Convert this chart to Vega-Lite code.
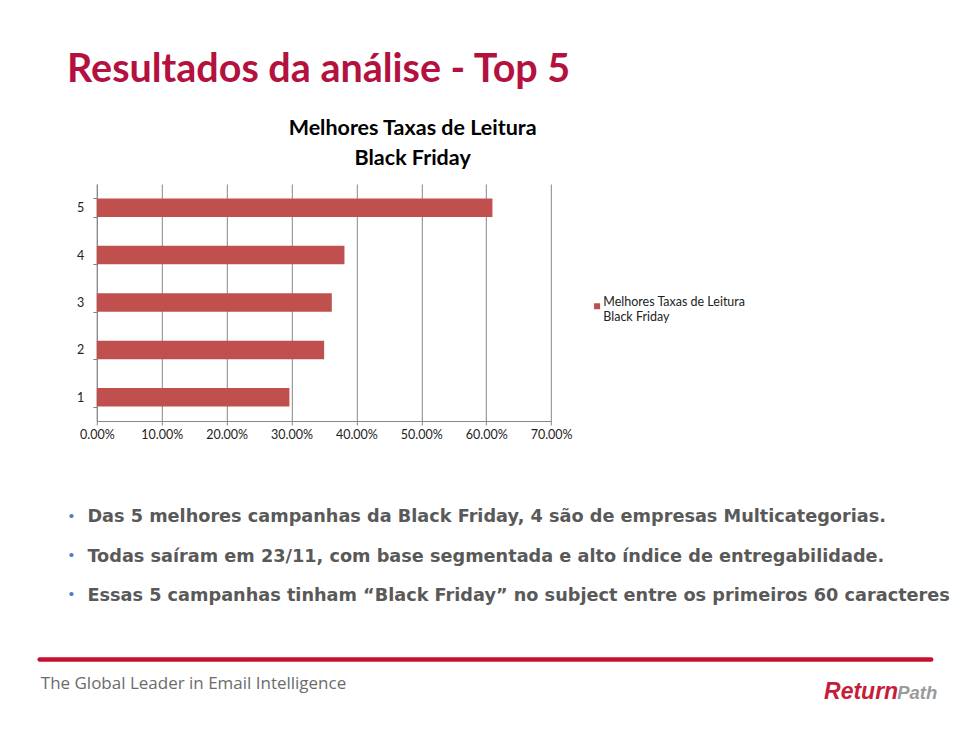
{
  "$schema": "https://vega.github.io/schema/vega-lite/v6.json",
  "background": "white",
  "padding": {"left": 40.8, "top": 50, "right": 0, "bottom": 0},
  "config": {
    "view": {"stroke": null},
    "axis": {"domainWidth": 1, "tickWidth": 1}
  },
  "title": {
    "text": "Resultados da análise - Top 5",
    "anchor": "start",
    "font": "Lato",
    "fontSize": 39.5,
    "fontWeight": "bold",
    "color": "#B3123F",
    "dx": 26.2,
    "offset": -4,
    "baseline": "alphabetic"
  },
  "datasets": {
    "taxas": [
      {"rank": "1", "taxa": 0.2968, "serie": "Melhores Taxas de Leitura|Black Friday"},
      {"rank": "2", "taxa": 0.3503, "serie": "Melhores Taxas de Leitura|Black Friday"},
      {"rank": "3", "taxa": 0.3621, "serie": "Melhores Taxas de Leitura|Black Friday"},
      {"rank": "4", "taxa": 0.3816, "serie": "Melhores Taxas de Leitura|Black Friday"},
      {"rank": "5", "taxa": 0.6096, "serie": "Melhores Taxas de Leitura|Black Friday"}
    ],
    "bullets": [
      {"line": 1, "text": "Das 5 melhores campanhas da Black Friday, 4 são de empresas Multicategorias."},
      {"line": 2, "text": "Todas saíram em 23/11, com base segmentada e alto índice de entregabilidade."},
      {"line": 3, "text": "Essas 5 campanhas tinham “Black Friday” no subject entre os primeiros 60 caracteres"}
    ],
    "footer": [
      {"part": "tagline", "text": "The Global Leader in Email Intelligence"},
      {"part": "return", "text": "Return"},
      {"part": "path", "text": "Path"}
    ]
  },
  "spacing": 44.55,
  "vconcat": [
    {
      "width": 454.3,
      "height": 237,
      "title": {
        "text": ["Melhores Taxas de Leitura", "Black Friday"],
        "font": "Lato",
        "fontSize": 21.5,
        "fontWeight": "bold",
        "color": "#000000",
        "anchor": "middle",
        "frame": "group",
        "dx": 88.7,
        "lineHeight": 30,
        "offset": -8.3,
        "baseline": "alphabetic"
      },
      "data": {"name": "taxas"},
      "mark": {"type": "bar", "color": "#C0504D"},
      "encoding": {
        "y": {
          "field": "rank",
          "type": "ordinal",
          "sort": "descending",
          "scale": {"paddingInner": 0.61, "paddingOuter": 0.305},
          "axis": {
            "title": null,
            "tickBand": "extent",
            "tickSize": 4,
            "tickColor": "#868686",
            "domainColor": "#868686",
            "labelFont": "Lato",
            "labelFontSize": 12.5,
            "labelColor": "#222222",
            "labelPadding": 9,
            "labelAngle": 0,
            "grid": false
          }
        },
        "x": {
          "field": "taxa",
          "type": "quantitative",
          "scale": {"domain": [0, 0.7], "nice": false},
          "axis": {
            "title": null,
            "format": ".2%",
            "values": [0, 0.1, 0.2, 0.3, 0.4, 0.5, 0.6, 0.7],
            "grid": true,
            "gridColor": "#868686",
            "gridWidth": 1,
            "gridOpacity": 1,
            "domainColor": "#868686",
            "tickColor": "#868686",
            "tickSize": 4,
            "labelFont": "Lato",
            "labelFontSize": 12.5,
            "labelColor": "#222222",
            "labelPadding": 4,
            "labelFlush": false,
            "minExtent": 30.15
          }
        },
        "color": {
          "field": "serie",
          "type": "nominal",
          "scale": {"range": ["#C0504D"]},
          "legend": {
            "orient": "none",
            "legendX": 494,
            "legendY": 116,
            "title": null,
            "padding": 0,
            "symbolType": "square",
            "symbolSize": 36,
            "symbolStrokeWidth": 0,
            "labelFont": "Lato",
            "labelFontSize": 12.5,
            "labelColor": "#222222",
            "labelLimit": 300,
            "labelOffset": 0,
            "labelBaseline": "alphabetic",
            "labelExpr": "split(datum.label, '|')"
          }
        }
      }
    },
    {
      "width": 860,
      "height": 117.9,
      "data": {"name": "bullets"},
      "mark": {
        "type": "text",
        "align": "left",
        "baseline": "alphabetic",
        "dx": -9.4,
        "dy": 6.1,
        "font": "DejaVu Sans",
        "fontSize": 17.7,
        "fontWeight": "bold",
        "color": "#595959"
      },
      "encoding": {
        "y": {
          "field": "line",
          "type": "ordinal",
          "scale": {"padding": 0.5},
          "axis": {
            "title": null,
            "ticks": false,
            "domain": false,
            "grid": false,
            "labelExpr": "'•'",
            "labelFont": "DejaVu Sans",
            "labelFontSize": 14,
            "labelColor": "#4A7EBB",
            "labelPadding": 21.9
          }
        },
        "x": {"datum": 0, "type": "quantitative", "scale": {"domain": [0, 1]}, "axis": null},
        "text": {"field": "text", "type": "nominal"}
      }
    },
    {
      "width": 834,
      "height": 60.6,
      "data": {"name": "footer"},
      "layer": [
        {
          "transform": [{"filter": "datum.part == 'tagline'"}],
          "mark": {"type": "text", "align": "left", "baseline": "alphabetic", "dx": 1.65, "font": "Open Sans", "fontSize": 17, "color": "#6B6B6B"},
          "encoding": {
            "x": {
              "datum": 0,
              "type": "quantitative",
              "scale": {"domain": [0, 1], "range": [-57.65, 833.85]},
              "axis": {"orient": "top", "title": null, "labels": false, "ticks": false, "grid": false, "domainColor": "#C8102E", "domainWidth": 4.5, "domainCap": "round"}
            },
            "text": {"field": "text", "type": "nominal"}
          }
        },
        {
          "transform": [{"filter": "datum.part == 'return'"}],
          "mark": {"type": "text", "align": "right", "baseline": "alphabetic", "dx": -32.5, "dy": 9.6, "font": "Liberation Sans", "fontSize": 23, "fontWeight": "bold", "fontStyle": "italic", "color": "#C41E3A"},
          "encoding": {
            "x": {"datum": 1, "type": "quantitative"},
            "text": {"field": "text", "type": "nominal"}
          }
        },
        {
          "transform": [{"filter": "datum.part == 'path'"}],
          "mark": {"type": "text", "align": "left", "baseline": "alphabetic", "dx": -33.5, "dy": 9.6, "font": "Liberation Sans", "fontSize": 18.5, "fontWeight": "bold", "fontStyle": "italic", "color": "#9A9A9A"},
          "encoding": {
            "x": {"datum": 1, "type": "quantitative"},
            "text": {"field": "text", "type": "nominal"}
          }
        }
      ]
    }
  ]
}
